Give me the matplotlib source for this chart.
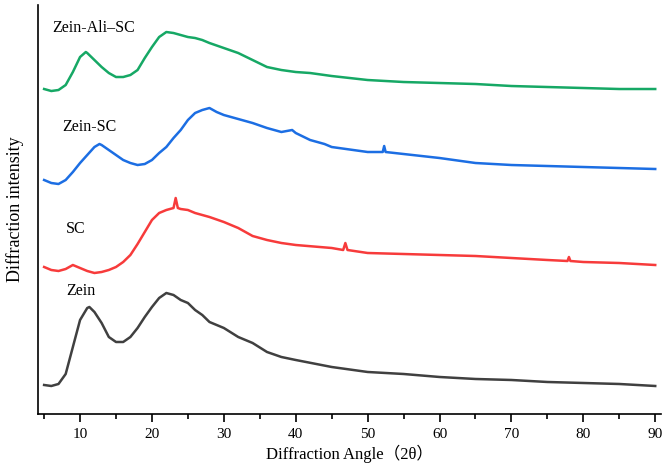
import numpy as np
import matplotlib.pyplot as plt
from matplotlib.ticker import MultipleLocator

plt.rcParams['font.family'] = ['Liberation Serif', 'Noto Sans CJK SC']

# Zein
zein_x = [5, 6, 7, 8, 9, 10, 11, 11.3, 12, 13, 14, 15, 16, 17, 18, 19, 20, 21, 22, 23, 24, 25,
          26, 27, 28, 30, 32, 34, 36, 38, 40, 45, 50, 55, 60, 65, 70, 75, 80, 85, 90]
zein_y = [29, 28, 30, 40, 67, 94, 106, 107, 102, 91, 77, 72, 72, 77, 86, 97, 107, 116, 121, 119, 114, 111,
          104, 99, 92, 86, 77, 71, 62, 57, 54, 47, 42, 40, 37, 35, 34, 32, 31, 30, 28]

# SC
sc_x = [5, 6, 7, 8, 9, 10, 11, 12, 13, 14, 15, 16, 17, 18, 19, 20, 21, 22, 23, 23.3, 23.6, 24, 25, 26,
        27, 28, 30, 32, 34, 36, 38, 40, 45, 46.6, 46.9, 47.2, 50, 55, 60, 65, 70, 75, 77.8, 78, 78.2,
        80, 85, 90]
sc_y = [147, 144, 143, 145, 149, 146, 143, 141, 142, 144, 147, 152, 159, 170, 182, 194, 201, 204, 206, 216,
        206, 205, 204, 201, 199, 197, 192, 186, 178, 174, 171, 169, 166, 164, 171, 164, 161, 160, 159,
        158, 156, 154, 153, 157, 153, 152, 151, 149]

# Zein-SC
zsc_x = [5, 6, 7, 8, 9, 10, 11, 12, 12.7, 13, 14, 15, 16, 17, 18, 19, 20, 21, 22, 23, 24, 25, 26, 27, 28,
         29, 30, 31, 32, 34, 36, 38, 39.5, 40, 42, 44, 45, 48, 50, 52.1, 52.3, 52.5, 55, 60, 65, 70, 75,
         80, 85, 90]
zsc_y = [234, 231, 230, 234, 242, 251, 259, 267, 270, 269, 264, 259, 254, 251, 249, 250, 254, 261, 267, 276,
         284, 294, 301, 304, 306, 302, 299, 297, 295, 291, 286, 282, 284, 281, 274, 270, 267, 264, 262,
         262, 268, 262, 260, 256, 251, 249, 248, 247, 246, 245]

# Zein-Ali-SC
zasc_x = [5, 6, 7, 8, 9, 10, 10.8, 11, 12, 13, 14, 15, 16, 17, 18, 19, 20, 21, 22, 23, 24, 25, 26, 27,
          28, 30, 32, 34, 36, 38, 40, 42, 45, 50, 55, 60, 65, 70, 75, 80, 85, 90]
zasc_y = [325, 323, 324, 329, 342, 357, 362, 361, 354, 347, 341, 337, 337, 339, 344, 356, 367, 377, 382, 381,
          379, 377, 376, 374, 371, 366, 361, 354, 347, 344, 342, 341, 338, 334, 332, 331, 330, 328, 327,
          326, 325, 325]

fig = plt.figure(figsize=(6.69, 4.69), dpi=100)
ax = fig.add_axes([0.0568, 0.1173, 0.9312, 0.872])

ax.plot(zein_x, zein_y, color='#404040', lw=1.8)
ax.plot(sc_x, sc_y, color='#f73b3b', lw=1.8)
ax.plot(zsc_x, zsc_y, color='#1c6ee3', lw=1.8)
ax.plot(zasc_x, zasc_y, color='#16a865', lw=1.8)

ax.text(6.2, 386, 'Zein-Ali–SC', fontsize=11.5, va='center')
ax.text(7.5, 287, 'Zein-SC', fontsize=11.5, va='center')
ax.text(8.0, 185, 'SC', fontsize=11.5, va='center')
ax.text(8.1, 123, 'Zein', fontsize=11.5, va='center')

ax.set_xlim(4.15, 90.8)
ax.set_ylim(0, 409)
ax.xaxis.set_major_locator(MultipleLocator(10))
ax.xaxis.set_minor_locator(MultipleLocator(5))
ax.set_xticks([10, 20, 30, 40, 50, 60, 70, 80, 90])
ax.tick_params(axis='x', which='major', direction='out', length=6, width=1.2, labelsize=11, pad=4)
ax.tick_params(axis='x', which='minor', direction='out', length=3.5, width=1.2)
ax.set_yticks([])
for s in ['top', 'right']:
    ax.spines[s].set_visible(False)
for s in ['left', 'bottom']:
    ax.spines[s].set_linewidth(1.2)

ax.set_xlabel('Diffraction Angle（2θ）', fontsize=12, labelpad=3)
ax.set_ylabel('Diffraction intensity', fontsize=13, labelpad=10)

fig.savefig('out.png', dpi=100)
